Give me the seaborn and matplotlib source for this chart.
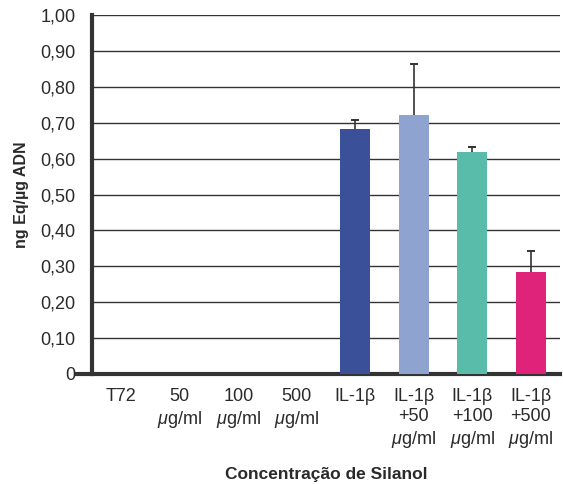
import numpy as np
import pandas as pd
import matplotlib
matplotlib.use("Agg")
import matplotlib.pyplot as plt
import seaborn as sns

categories = ["T72", "50\n$\\mu$g/ml", "100\n$\\mu$g/ml", "500\n$\\mu$g/ml",
              "IL-1β", "IL-1β\n+50\n$\\mu$g/ml", "IL-1β\n+100\n$\\mu$g/ml", "IL-1β\n+500\n$\\mu$g/ml"]
values = [0, 0, 0, 0, 0.682, 0.721, 0.618, 0.284]
errors = [0, 0, 0, 0, 0.025, 0.143, 0.014, 0.059]
colors = ["#3A5199", "#3A5199", "#3A5199", "#3A5199", "#3A5199", "#8FA3D0", "#59BBAA", "#E0237A"]
yticks = [0, 0.1, 0.2, 0.3, 0.4, 0.5, 0.6, 0.7, 0.8, 0.9, 1.0]
ytick_labels = ["0", "0,10", "0,20", "0,30", "0,40", "0,50", "0,60", "0,70", "0,80", "0,90", "1,00"]

sns.set_style("white")
plt.rcParams["font.family"] = ["Liberation Sans", "DejaVu Sans"]
plt.rcParams["mathtext.fontset"] = "custom"
plt.rcParams["mathtext.rm"] = "Liberation Sans"
plt.rcParams["mathtext.it"] = "Liberation Sans:italic"
plt.rcParams["mathtext.bf"] = "Liberation Sans:bold"

TXT = "#2a2a2a"
DARK = "#333333"

fig = plt.figure(figsize=(5.63, 4.84), dpi=100)
ax = fig.add_axes([92 / 563, 1 - 374 / 484, 468 / 563, (374 - 15) / 484])

df = pd.DataFrame({"cat": categories, "val": values})
sns.barplot(data=df, x="cat", y="val", hue="cat", palette=dict(zip(categories, colors)),
            legend=False, width=0.52, saturation=1, linewidth=0, ax=ax, zorder=3)

pos = np.arange(len(categories))
vals = np.array(values)
errs = np.array(errors)
mask = errs > 0
ax.vlines(pos[mask], vals[mask], vals[mask] + errs[mask], color=DARK, linewidth=1.2, zorder=4)
ax.scatter(pos[mask], vals[mask] + errs[mask], marker="_", s=40, color=DARK,
           linewidths=1.4, zorder=4, clip_on=False)

ax.set_xlim(-0.5, len(categories) - 0.5)
ax.set_ylim(0, 1.0)
ax.set_yticks(yticks)
ax.set_yticklabels(ytick_labels)
ax.yaxis.grid(True, color=DARK, linewidth=1.0)
ax.set_axisbelow(True)

# boundary ticks (major) and label positions (minor)
ax.set_xticks(pos + 0.5)
ax.set_xticklabels([])
ax.set_xticks(pos, minor=True)
ax.set_xticklabels(categories, minor=True, linespacing=1.25)
ax.tick_params(axis="x", which="major", length=6, width=1, color=DARK, direction="out")
ax.tick_params(axis="x", which="minor", length=0, pad=10, labelsize=13, labelcolor=TXT)
ax.tick_params(axis="y", which="major", length=7, width=1, color=DARK, direction="out",
               pad=5, labelsize=13, labelcolor=TXT)

for s in ["top", "right"]:
    ax.spines[s].set_visible(False)
ax.spines["left"].set_linewidth(3)
ax.spines["left"].set_color(DARK)
ax.spines["bottom"].set_linewidth(3)
ax.spines["bottom"].set_color(DARK)
ax.spines["bottom"].set_bounds(-0.75, len(categories) - 0.5)

ax.set_xlabel("Concentração de Silanol", fontsize=12.5, fontweight="bold", color=TXT, labelpad=12)
ax.set_ylabel("ng Eq/µg ADN", fontsize=11.5, fontweight="bold", color=TXT, labelpad=8)

fig.savefig("out.png", dpi=100)
